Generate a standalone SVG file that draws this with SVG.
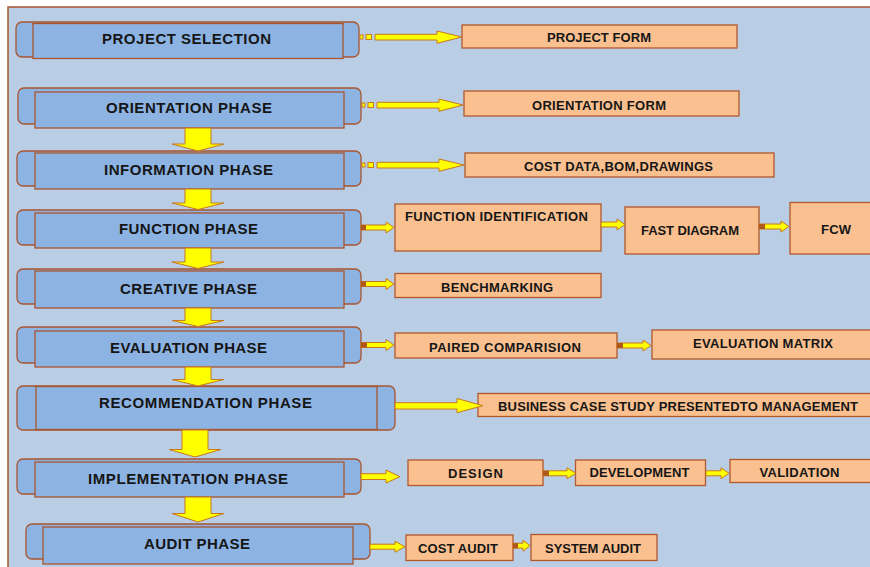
<svg xmlns="http://www.w3.org/2000/svg" width="870" height="567" viewBox="0 0 870 567">
<style>
.ph-o{fill:#8DB3E2;stroke:#A9552E;stroke-width:1.3}
.ph-i{fill:#8DB3E2;stroke:#A9552E;stroke-width:1.3}
.ph-t{font-family:"Liberation Sans",Arial,sans-serif;font-weight:bold;font-size:15px;fill:#161616}
.bx{fill:#FAC090;stroke:#B2582C;stroke-width:1.3}
.bx-t{font-family:"Liberation Sans",Arial,sans-serif;font-weight:bold;font-size:13px;fill:#161616}
.arr{fill:#FFFF00;stroke:#C8781E;stroke-width:1}
.sq{fill:#FFFF00;stroke:#C8781E;stroke-width:1}
.st{fill:#B0581C}
</style>
<rect x="0" y="0" width="870" height="567" fill="#FFFFFF"/>
<rect x="8" y="7" width="870" height="570" fill="#B9CDE5" stroke="#A9552E" stroke-width="1.5"/>

<g id="project-selection">
<rect class="ph-o" x="16" y="22" width="343" height="35" rx="6"/>
<rect class="ph-i" x="33" y="23.5" width="310" height="35"/>
<text class="ph-t" x="102" y="44" textLength="169" lengthAdjust="spacing">PROJECT SELECTION</text>
</g>
<g id="orientation-phase">
<rect class="ph-o" x="18" y="88" width="343" height="36" rx="6"/>
<rect class="ph-i" x="35" y="92" width="309" height="36"/>
<text class="ph-t" x="106" y="113" textLength="166" lengthAdjust="spacing">ORIENTATION PHASE</text>
</g>
<g id="information-phase">
<rect class="ph-o" x="17" y="151" width="344" height="35" rx="6"/>
<rect class="ph-i" x="35" y="153" width="309" height="36"/>
<text class="ph-t" x="104" y="175" textLength="169" lengthAdjust="spacing">INFORMATION PHASE</text>
</g>
<g id="function-phase">
<rect class="ph-o" x="17" y="210" width="344" height="35" rx="6"/>
<rect class="ph-i" x="35" y="213" width="309" height="35"/>
<text class="ph-t" x="119" y="234" textLength="139" lengthAdjust="spacing">FUNCTION PHASE</text>
</g>
<g id="creative-phase">
<rect class="ph-o" x="17" y="269" width="344" height="35" rx="6"/>
<rect class="ph-i" x="35" y="271" width="309" height="37"/>
<text class="ph-t" x="120" y="294" textLength="137" lengthAdjust="spacing">CREATIVE PHASE</text>
</g>
<g id="evaluation-phase">
<rect class="ph-o" x="17" y="327" width="344" height="36" rx="6"/>
<rect class="ph-i" x="35" y="331" width="309" height="36"/>
<text class="ph-t" x="110" y="353" textLength="157" lengthAdjust="spacing">EVALUATION PHASE</text>
</g>
<g id="recommendation-phase">
<rect class="ph-o" x="17" y="386" width="378" height="44" rx="6"/>
<rect class="ph-i" x="36" y="386.5" width="341" height="43"/>
<text class="ph-t" x="99" y="408" textLength="213" lengthAdjust="spacing">RECOMMENDATION PHASE</text>
</g>
<g id="implementation-phase">
<rect class="ph-o" x="17" y="459" width="344" height="35" rx="6"/>
<rect class="ph-i" x="35" y="462" width="309" height="35"/>
<text class="ph-t" x="88" y="484" textLength="200" lengthAdjust="spacing">IMPLEMENTATION PHASE</text>
</g>
<g id="audit-phase">
<rect class="ph-o" x="26" y="524" width="344" height="35" rx="6"/>
<rect class="ph-i" x="43" y="527" width="310" height="37"/>
<text class="ph-t" x="144" y="549" textLength="106" lengthAdjust="spacing">AUDIT PHASE</text>
</g>

<g id="project-form">
<rect class="bx" x="462" y="25" width="275" height="23"/>
<text class="bx-t" x="547" y="42" textLength="104" lengthAdjust="spacing">PROJECT FORM</text>
</g>
<g id="orientation-form">
<rect class="bx" x="464" y="91" width="275" height="25"/>
<text class="bx-t" x="532" y="110" textLength="134" lengthAdjust="spacing">ORIENTATION FORM</text>
</g>
<g id="cost-data">
<rect class="bx" x="465" y="153" width="309" height="24"/>
<text class="bx-t" x="524" y="171" textLength="189" lengthAdjust="spacing">COST DATA,BOM,DRAWINGS</text>
</g>
<g id="function-identification">
<rect class="bx" x="395" y="204" width="206" height="47"/>
<text class="bx-t" x="405" y="221" textLength="183" lengthAdjust="spacing">FUNCTION IDENTIFICATION</text>
</g>
<g id="fast-diagram">
<rect class="bx" x="625" y="207" width="134" height="47"/>
<text class="bx-t" x="641" y="235" textLength="98" lengthAdjust="spacing">FAST DIAGRAM</text>
</g>
<g id="fcw">
<rect class="bx" x="790" y="202.5" width="90" height="51.5"/>
<text class="bx-t" x="821" y="234" textLength="30" lengthAdjust="spacing">FCW</text>
</g>
<g id="benchmarking">
<rect class="bx" x="395" y="273.5" width="206" height="24"/>
<text class="bx-t" x="441" y="291.5" textLength="112" lengthAdjust="spacing">BENCHMARKING</text>
</g>
<g id="paired-comparision">
<rect class="bx" x="395" y="333" width="222" height="25"/>
<text class="bx-t" x="429" y="351.5" textLength="152" lengthAdjust="spacing">PAIRED  COMPARISION</text>
</g>
<g id="evaluation-matrix">
<rect class="bx" x="652" y="330" width="228" height="29"/>
<text class="bx-t" x="693" y="347.5" textLength="140" lengthAdjust="spacing">EVALUATION MATRIX</text>
</g>
<g id="business-case">
<rect class="bx" x="478" y="393.5" width="402" height="23"/>
<text class="bx-t" x="498" y="410.5" textLength="360" lengthAdjust="spacing">BUSINESS CASE  STUDY PRESENTEDTO MANAGEMENT</text>
</g>
<g id="design">
<rect class="bx" x="408" y="460" width="135" height="25.5"/>
<text class="bx-t" x="448" y="478" textLength="55" lengthAdjust="spacing">DESIGN</text>
</g>
<g id="development">
<rect class="bx" x="575.5" y="460" width="130" height="25.5"/>
<text class="bx-t" x="589.5" y="477" textLength="100" lengthAdjust="spacing">DEVELOPMENT</text>
</g>
<g id="validation">
<rect class="bx" x="730" y="459.5" width="150" height="23"/>
<text class="bx-t" x="759.5" y="477" textLength="80" lengthAdjust="spacing">VALIDATION</text>
</g>
<g id="cost-audit">
<rect class="bx" x="406" y="535" width="107" height="25.5"/>
<text class="bx-t" x="418" y="552.5" textLength="80" lengthAdjust="spacing">COST AUDIT</text>
</g>
<g id="system-audit">
<rect class="bx" x="531" y="534.5" width="126" height="26"/>
<text class="bx-t" x="545" y="552.5" textLength="96" lengthAdjust="spacing">SYSTEM AUDIT</text>
</g>

<g id="connectors">
<!-- down arrows between phases -->
<polygon class="arr" points="185,128 211,128 211,144 224,144 198,151 172,144 185,144"/>
<polygon class="arr" points="185,189 211,189 211,203 224,203 198,209.5 172,203 185,203"/>
<polygon class="arr" points="185,248 211,248 211,262 224,262 198,268.5 172,262 185,262"/>
<polygon class="arr" points="185,308 211,308 211,320.5 224,320.5 198,326.5 172,320.5 185,320.5"/>
<polygon class="arr" points="185,367 211,367 211,379.5 224,379.5 198,386 172,379.5 185,379.5"/>
<polygon class="arr" points="182,430 208,430 208,449.5 221,449.5 195,457 169,449.5 182,449.5"/>
<polygon class="arr" points="185,497 211,497 211,513.5 224,513.5 198,522 172,513.5 185,513.5"/>

<!-- dotted-start long arrows -->
<rect class="sq" x="360" y="35" width="3" height="4"/>
<rect class="sq" x="366" y="34.5" width="5.5" height="5"/>
<polygon class="arr" points="375,34.3 437,34.3 437,31 462,37 437,43.3 437,40 375,40"/>
<rect class="sq" x="362" y="103" width="3" height="4"/>
<rect class="sq" x="368" y="102.5" width="5.5" height="5"/>
<polygon class="arr" points="377,102.3 439,102.3 439,99 463,105 439,111.3 439,108 377,108"/>
<rect class="sq" x="362" y="163" width="3" height="4"/>
<rect class="sq" x="368" y="162.5" width="5.5" height="5"/>
<polygon class="arr" points="377,162.3 439,162.3 439,159 464,165 439,171.3 439,168 377,168"/>

<!-- short arrows -->
<polygon class="arr" points="361,225 386,225 386,222 394,227.5 386,233 386,230 361,230"/>
<rect class="st" x="361" y="225" width="5" height="5"/>
<polygon class="arr" points="601,222 617,222 617,219 625,224.5 617,230 617,227 601,227"/>
<polygon class="arr" points="759,224 781,224 781,221 789,226.5 781,232 781,229 759,229"/>
<rect class="st" x="759" y="224" width="6" height="5"/>
<polygon class="arr" points="361,281.5 386,281.5 386,278.5 394,284 386,289.5 386,286.5 361,286.5"/>
<rect class="st" x="361" y="281.5" width="5" height="5"/>
<polygon class="arr" points="361,342.5 386,342.5 386,339.5 394,345 386,350.5 386,347.5 361,347.5"/>
<rect class="st" x="361" y="342.5" width="6" height="5"/>
<polygon class="arr" points="617,343 643,343 643,340 651,345.5 643,351 643,348 617,348"/>
<rect class="st" x="617" y="343" width="6" height="5"/>
<polygon class="arr" points="395,402.7 457,402.7 457,398.5 483,405.7 457,412.7 457,409 395,409"/>
<polygon class="arr" points="361,473.7 386,473.7 386,470 400,476.7 386,483 386,479.5 361,479.5"/>
<polygon class="arr" points="543,470.8 567,470.8 567,467.8 576,473.3 567,478.8 567,475.8 543,475.8"/>
<rect class="st" x="543" y="470.8" width="6" height="5"/>
<polygon class="arr" points="706,470.8 721,470.8 721,467.8 729,473.3 721,478.8 721,475.8 706,475.8"/>
<polygon class="arr" points="370,544.2 395,544.2 395,541.2 405,546.7 395,552.2 395,549.2 370,549.2"/>
<polygon class="arr" points="513,543.2 523,543.2 523,540.2 530,545.7 523,551.2 523,548.2 513,548.2"/>
<rect class="st" x="513" y="543.2" width="5" height="5"/>
</g>
</svg>
